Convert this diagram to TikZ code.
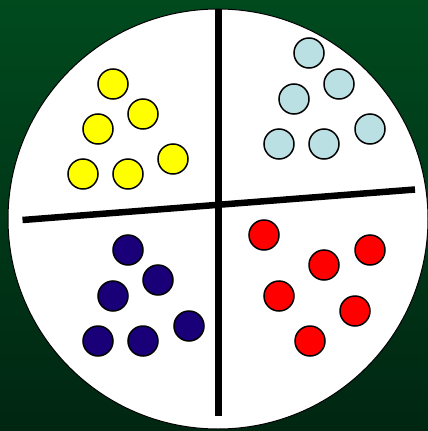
\documentclass[tikz,border=0pt]{standalone}
\usepackage{tikz}

\begin{document}
\begin{tikzpicture}[x=1pt, y=-1pt, line width=1.5pt,
    dot/.style={circle, draw=black, line width=1.5pt, minimum size=30pt, inner sep=0pt},
    divider/.style={line width=6.5pt}]
  % 颜色
  \definecolor{bgtop}{RGB}{0,74,30}
  \definecolor{bgbot}{RGB}{0,38,18}
  \definecolor{dotyellow}{RGB}{255,255,0}
  \definecolor{dotcyan}{RGB}{187,224,227}
  \definecolor{dotnavy}{RGB}{26,0,120}
  \definecolor{dotred}{RGB}{255,0,0}

  % 背景
  \shade[top color=bgtop, bottom color=bgbot] (0,0) rectangle (428,431);
  \useasboundingbox (0,0) rectangle (428,431);

  % 圆盘
  \coordinate (Center) at (218,219);
  \filldraw[white, draw=black, line width=1pt] (Center) circle (210);

  % 分隔线
  \coordinate (Top) at (218.5,9);
  \coordinate (Bottom) at (218.5,416);
  \coordinate (Left) at (22.5,220);
  \coordinate (Right) at (415,189.5);
  \draw[divider] (Top) -- (Bottom);
  \draw[divider] (Left) -- (Right);

  % 黄色
  \foreach \n/\p in {1/{113,84}, 2/{143,114}, 3/{98,129}, 4/{173,159}, 5/{83,174}, 6/{128,174}}
    \node[dot, fill=dotyellow] (yellow\n) at (\p) {};

  % 浅蓝色
  \foreach \n/\p in {1/{309,53}, 2/{339,84}, 3/{294,99}, 4/{370,129}, 5/{279,144}, 6/{324,144}}
    \node[dot, fill=dotcyan] (cyan\n) at (\p) {};

  % 深蓝色
  \foreach \n/\p in {1/{128,250}, 2/{158,280}, 3/{113,296}, 4/{189,326}, 5/{98,341}, 6/{143,341}}
    \node[dot, fill=dotnavy] (navy\n) at (\p) {};

  % 红色
  \foreach \n/\p in {1/{264,235}, 2/{370,250}, 3/{324,265}, 4/{279,296}, 5/{355,311}, 6/{310,341}}
    \node[dot, fill=dotred] (red\n) at (\p) {};

\end{tikzpicture}
\end{document}
